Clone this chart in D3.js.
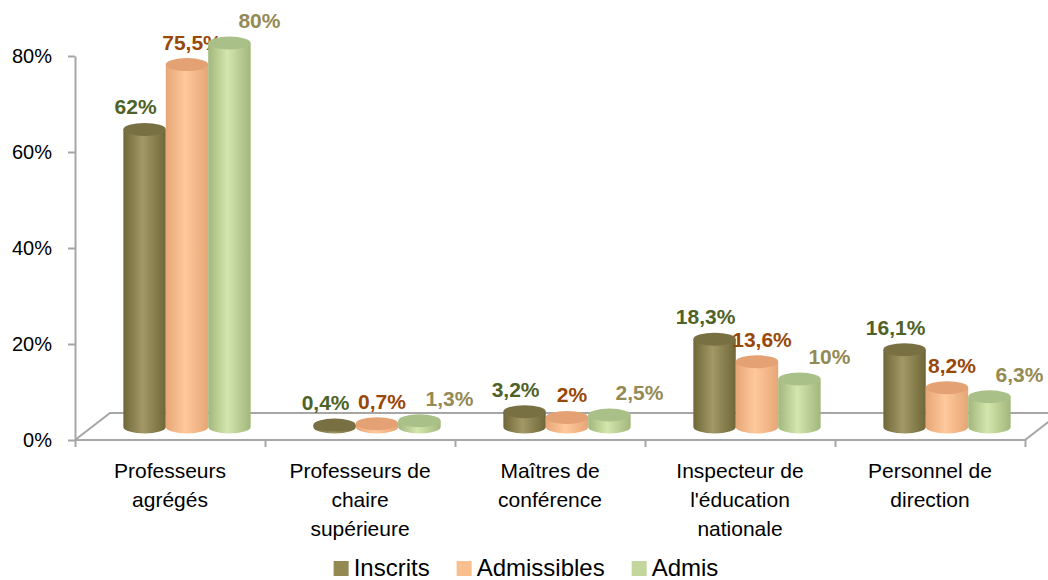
<!DOCTYPE html>
<html>
<head>
<meta charset="utf-8">
<script src="https://cdn.jsdelivr.net/npm/d3@7"></script>
<style>
  body { margin: 0; background: #fff; }
  text { font-family: "Liberation Sans", Arial, sans-serif; }
</style>
</head>
<body>
<div id="chart"></div>
<script>
var categories = [
  ["Professeurs", "agrégés"],
  ["Professeurs de", "chaire", "supérieure"],
  ["Maîtres de", "conférence"],
  ["Inspecteur de", "l'éducation", "nationale"],
  ["Personnel de", "direction"]
];
var seriesNames = ["Inscrits", "Admissibles", "Admis"];
var inscrits = [62, 0.4, 3.2, 18.3, 16.1];
var admissibles = [75.5, 0.7, 2, 13.6, 8.2];
var admis = [80, 1.3, 2.5, 10, 6.3];
var yTicks = [0, 20, 40, 60, 80];

var values = [inscrits, admissibles, admis];

var colors = [
  { dark: "#6f6738", light: "#a29866", top: "#787043", legend: "#938953", label: "#4f6228", dx: -9 },
  { dark: "#e6a676", light: "#ffc99c", top: "#e3a174", legend: "#fabf8f", label: "#984807", dx: 5 },
  { dark: "#a2b77c", light: "#d3e6ad", top: "#a9c088", legend: "#c3d69b", label: "#948a54", dx: 30 }
];

var width = 1048, height = 580;
var plotLeft = 75, plotRight = 1025, plotTop = 56, plotBottom = 440;
var depthX = 35, depthY = 27; // floor depth
var barX = 17, barY = 13;     // bars stand mid-depth

var svg = d3.select("#chart").append("svg")
  .attr("width", width)
  .attr("height", height);

var defs = svg.append("defs");
colors.forEach(function (c, i) {
  var g = defs.append("linearGradient").attr("id", "cyl" + i)
    .attr("x1", "0%").attr("x2", "100%").attr("y1", "0%").attr("y2", "0%");
  g.append("stop").attr("offset", "0%").attr("stop-color", c.dark);
  g.append("stop").attr("offset", "45%").attr("stop-color", c.light);
  g.append("stop").attr("offset", "100%").attr("stop-color", c.dark);
});

var x = d3.scaleBand()
  .domain(d3.range(categories.length))
  .range([plotLeft, plotRight]);

var groupW = x.bandwidth() * 0.67;
var xs = d3.scaleBand()
  .domain(d3.range(seriesNames.length))
  .range([0, groupW]);

var y = d3.scaleLinear()
  .domain([0, 80])
  .range([plotBottom, plotTop]);

// floor
var floorColor = "#a6a6a6";
var floor = svg.append("g")
  .attr("fill", "none")
  .attr("stroke", floorColor)
  .attr("stroke-width", 2);
floor.append("path")
  .attr("d", "M" + plotLeft + "," + plotBottom + "L" + (plotLeft + depthX) + "," + (plotBottom - depthY) +
    "L" + (plotRight + depthX + 10) + "," + (plotBottom - depthY));
floor.append("path")
  .attr("d", "M" + plotLeft + "," + plotBottom + "L" + plotRight + "," + plotBottom +
    "L" + (plotRight + depthX) + "," + (plotBottom - depthY));

// y axis
var yAxis = d3.axisLeft(y)
  .tickValues(yTicks)
  .tickFormat(function (d) { return d + "%"; })
  .tickSize(7)
  .tickSizeOuter(0)
  .tickPadding(16);

var gy = svg.append("g")
  .attr("transform", "translate(" + plotLeft + ",0)")
  .call(yAxis);
gy.select(".domain").attr("stroke", floorColor).attr("stroke-width", 2);
gy.selectAll(".tick line").attr("stroke", floorColor).attr("stroke-width", 2);
gy.selectAll(".tick text")
  .attr("fill", "#000")
  .style("font-size", "20px")
  .style("font-family", "'Liberation Sans', Arial, sans-serif");

// x axis ticks
var xEdge = d3.scaleLinear().domain([0, categories.length]).range([plotLeft, plotRight]);
var xAxis = d3.axisBottom(xEdge)
  .tickValues(d3.range(categories.length + 1))
  .tickFormat("")
  .tickSize(7)
  .tickSizeOuter(0);
var gx = svg.append("g")
  .attr("transform", "translate(0," + plotBottom + ")")
  .call(xAxis);
gx.select(".domain").remove();
gx.selectAll(".tick line").attr("stroke", floorColor).attr("stroke-width", 2);

// category labels
categories.forEach(function (lines, i) {
  var t = svg.append("text")
    .attr("text-anchor", "middle")
    .attr("font-size", 21)
    .attr("fill", "#000");
  lines.forEach(function (ln, k) {
    t.append("tspan")
      .attr("x", x(i) + x.bandwidth() / 2)
      .attr("y", 478 + k * 29)
      .text(ln);
  });
});

// cylinders
var rx = xs.bandwidth() / 2, ry = 6.5;
var base = y(0) - barY;
var fmt = function (v) { return String(v).replace(".", ",") + "%"; };

categories.forEach(function (c, i) {
  values.forEach(function (vals, s) {
    var v = vals[i];
    var cx = x(i) + (x.bandwidth() - groupW) / 2 + barX + xs(s) + rx;
    var ty = y(v) - barY;
    var g = svg.append("g");
    g.append("path")
      .attr("d", "M" + (cx - rx) + "," + ty +
        "L" + (cx - rx) + "," + base +
        "A" + rx + "," + ry + " 0 0 0 " + (cx + rx) + "," + base +
        "L" + (cx + rx) + "," + ty + "Z")
      .attr("fill", "url(#cyl" + s + ")");
    g.append("ellipse")
      .attr("cx", cx).attr("cy", ty)
      .attr("rx", rx).attr("ry", ry)
      .attr("fill", colors[s].top);
    svg.append("text")
      .attr("x", cx + colors[s].dx)
      .attr("y", ty - 15)
      .attr("text-anchor", "middle")
      .attr("font-size", 21)
      .attr("font-weight", "bold")
      .attr("fill", colors[s].label)
      .text(fmt(v));
  });
});

// legend
var legend = svg.append("g");
var lx = 0;
seriesNames.forEach(function (name, s) {
  var item = legend.append("g").attr("transform", "translate(" + lx + ",0)");
  item.append("rect")
    .attr("x", 0).attr("y", -7)
    .attr("width", 15).attr("height", 15)
    .attr("fill", colors[s].legend);
  var t = item.append("text")
    .attr("x", 20).attr("y", 8)
    .attr("font-size", 24)
    .attr("fill", "#000")
    .text(name);
  lx += 20 + t.node().getComputedTextLength() + 27;
});
var legendW = lx - 27;
legend.attr("transform", "translate(" + (526 - legendW / 2) + ",568)");
</script>
</body>
</html>
